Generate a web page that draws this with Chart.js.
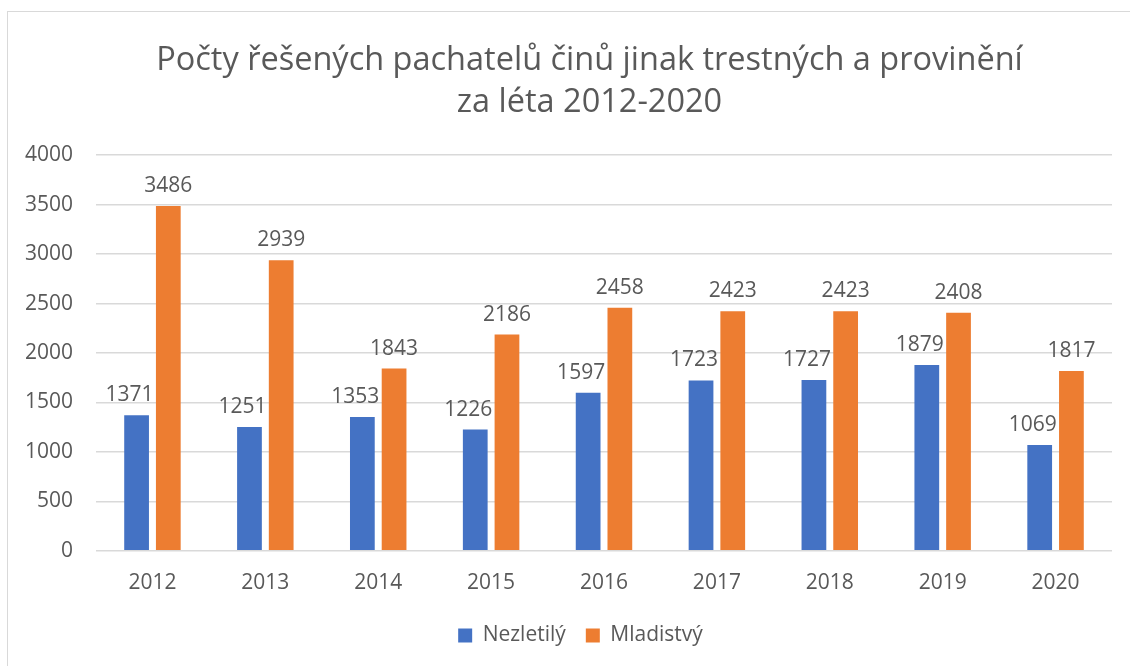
<!DOCTYPE html>
<html>
<head>
<meta charset="utf-8">
<script src="https://cdn.jsdelivr.net/npm/chart.js@4"></script>
<style>
  html, body { margin: 0; padding: 0; background: #ffffff; overflow: hidden; }
  #wrap { position: relative; width: 1130px; height: 666px; }
  #frame { position: absolute; left: 7px; top: 11px; width: 1200px; height: 700px; border: 1.5px solid #d9d9d9; pointer-events: none; }
  canvas { position: absolute; left: 0; top: 0; }
</style>
</head>
<body>
<div id="wrap">
  <div id="frame"></div>
  <canvas id="c" width="1130" height="666"></canvas>
</div>
<script>
const titleLines = ['Počty řešených pachatelů činů jinak trestných a provinění', 'za léta 2012-2020'];
const categories = ['2012', '2013', '2014', '2015', '2016', '2017', '2018', '2019', '2020'];
const seriesNames = ['Nezletilý', 'Mladistvý'];
const nezletily = [1371, 1251, 1353, 1226, 1597, 1723, 1727, 1879, 1069];
const mladistvy = [3486, 2939, 1843, 2186, 2458, 2423, 2423, 2408, 1817];
const yTicks = { min: 0, max: 4000, step: 500 };

const FONT = "'Open Sans', 'Liberation Sans', sans-serif";
const GRAY = '#595959';

const dataLabels = {
  id: 'dataLabels',
  afterDatasetsDraw(chart) {
    const ctx = chart.ctx;
    ctx.save();
    ctx.font = '21px ' + FONT;
    ctx.fillStyle = GRAY;
    ctx.textAlign = 'center';
    ctx.textBaseline = 'alphabetic';
    chart.data.datasets.forEach((ds, di) => {
      const meta = chart.getDatasetMeta(di);
      meta.data.forEach((el, i) => {
        const dx = di === 0 ? -7 : 0;
        ctx.fillText(String(ds.data[i]), el.x + dx, el.y - 14);
      });
    });
    ctx.restore();
  }
};

// shift title and legend blocks horizontally to match the reference centring
const shiftBlocks = {
  id: 'shiftBlocks',
  afterLayout(chart) {
    const t = chart.titleBlock;
    if (t) { t.left += 21; t.right += 21; }
    const l = chart.legend;
    if (l) { l.left += 12; l.right += 12; if (l.adjustHitBoxes) l.adjustHitBoxes(); }
  }
};

new Chart(document.getElementById('c'), {
  type: 'bar',
  data: {
    labels: categories,
    datasets: [
      { label: seriesNames[0], data: nezletily, backgroundColor: '#4472C4', categoryPercentage: 0.562, barPercentage: 0.78 },
      { label: seriesNames[1], data: mladistvy, backgroundColor: '#ED7D31', categoryPercentage: 0.562, barPercentage: 0.78 }
    ]
  },
  options: {
    responsive: false,
    animation: false,
    layout: { padding: { left: 25, right: 18, top: 40, bottom: 10 } },
    plugins: {
      title: {
        display: true,
        text: titleLines,
        color: GRAY,
        font: { family: FONT, size: 32.5, weight: 'normal', lineHeight: 1.28 },
        padding: { top: 0, bottom: 32 }
      },
      legend: {
        display: true,
        position: 'bottom',
        labels: {
          color: GRAY,
          font: { family: FONT, size: 21 },
          boxWidth: 14,
          boxHeight: 14,
          padding: 20
        }
      },
      tooltip: { enabled: false }
    },
    scales: {
      x: {
        grid: { display: false },
        border: { display: false },
        afterFit(scale) { scale.height -= 3; },
        ticks: { color: GRAY, font: { family: FONT, size: 21 }, padding: 12 }
      },
      y: {
        min: yTicks.min,
        max: yTicks.max,
        afterFit(scale) { scale.width = 71; },
        grid: { color: '#d9d9d9', lineWidth: 1.5, drawTicks: false },
        border: { display: false },
        ticks: {
          stepSize: yTicks.step, color: GRAY, font: { family: FONT, size: 21 }, padding: 23,
          callback: (v) => String(v)
        }
      }
    }
  },
  plugins: [dataLabels, shiftBlocks]
});
</script>
</body>
</html>
